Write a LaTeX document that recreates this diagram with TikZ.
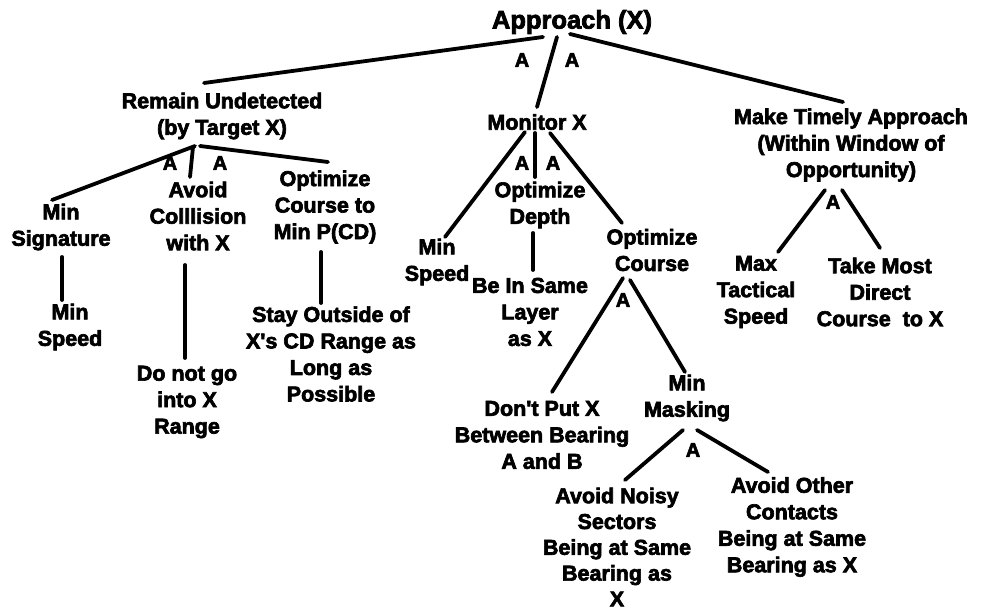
\documentclass[tikz,border=0pt]{standalone}
\usepackage{fontspec}
\newfontfamily\lblfont{Liberation Sans Bold}[FakeBold=3]
\usetikzlibrary{calc}

\tikzset{
  goal/.style={inner sep=0pt, align=center,
    font=\lblfont\fontsize{21.5}{26.5}\selectfont},
  tightgoal/.style={goal, font=\lblfont\fontsize{21.5}{25.8}\selectfont},
  topgoal/.style={goal, font=\lblfont\fontsize{25.5}{30}\selectfont},
  andmark/.style={inner sep=0pt, font=\lblfont\fontsize{20}{24}\selectfont},
  link/.style={line width=3.8pt, line cap=round}
}

\begin{document}
\begin{tikzpicture}[x=1pt, y=-1pt]
\useasboundingbox (0,0) rectangle (988,609);

% goals
\node[topgoal] (app) at (572,22) {Approach (X)};
\node[goal] (rem) at (222,116) {Remain Undetected\\(by Target X)};
\node[goal] (mon) at (537,122) {Monitor X};
\node[goal] (mta) at (851,145) {Make Timely Approach\\(Within Window of\\Opportunity)};

\node[goal] (msig) at (61,227) {Min\\Signature};
\node[goal] (acol) at (198,216) {Avoid\\Colllision\\with X};
\node[goal] (ocmin) at (325,207) {Optimize\\Course to\\Min P(CD)};
\node[goal] (ms1) at (70,327) {Min\\Speed};
\node[goal] (dng) at (187,402) {Do not go\\into X\\Range};
\node[goal] (stay) at (331,354) {Stay Outside of\\X's CD Range as\\Long as\\Possible};

\node[goal] (ms2) at (437,262) {Min\\Speed};
\node[goal] (odep) at (540,205) {Optimize\\Depth};
\node[goal] (bis) at (530,312) {Be In Same\\Layer\\as X};
\node[goal] (ocr) at (652,250) {Optimize\\Course};
\node[goal] (dpx) at (542,435) {Don't Put X\\Between Bearing\\A and B};
\node[goal] (mmask) at (687,398) {Min\\Masking};
\node[tightgoal] (ans) at (617,547) {Avoid Noisy\\Sectors\\Being at Same\\Bearing as\\X};
\node[goal] (aoc) at (792,527) {Avoid Other\\Contacts\\Being at Same\\Bearing as X};

\node[goal] (mts) at (756,292) {Max\\Tactical\\Speed};
\node[goal] (tmd) at (880,292) {Take Most\\Direct\\Course\ \ to X};

% AND markers
\node[andmark] (a1) at (522,60) {A};
\node[andmark] (a2) at (572,60) {A};
\node[andmark] (a3) at (170,163) {A};
\node[andmark] (a4) at (220,163) {A};
\node[andmark] (a5) at (522,163) {A};
\node[andmark] (a6) at (553,163) {A};
\node[andmark] (a7) at (623,300) {A};
\node[andmark] (a8) at (693,450) {A};
\node[andmark] (a9) at (833,202) {A};

% decomposition links
\draw[link] ([shift={(-29,15)}]app.center) -- ([shift={(-18,-33)}]rem.center);
\draw[link] ([shift={(-15,15)}]app.center) -- ([shift={(0,-15)}]mon.center);
\draw[link] ([shift={(-2,12)}]app.center) -- ([shift={(-8,-43)}]mta.center);

\draw[link] ([shift={(-27,30)}]rem.center) -- ([shift={(-9,-27)}]msig.center);
\draw[link] ([shift={(-29,31)}]rem.center) -- ([shift={(-8,-39)}]acol.center);
\draw[link] ([shift={(-22,30)}]rem.center) -- ([shift={(3,-45)}]ocmin.center);

\draw[link] ([shift={(1,30)}]msig.center) -- ([shift={(-8,-27)}]ms1.center);
\draw[link] ([shift={(-13,49)}]acol.center) -- ([shift={(-2,-44)}]dng.center);
\draw[link] ([shift={(-4,45)}]ocmin.center) -- ([shift={(-10,-51)}]stay.center);

\draw[link] ([shift={(-12,10)}]mon.center) -- ([shift={(8,-25)}]ms2.center);
\draw[link] ([shift={(-2,11)}]mon.center) -- ([shift={(-5,-28)}]odep.center);
\draw[link] ([shift={(13,11)}]mon.center) -- ([shift={(-30,-27)}]ocr.center);

\draw[link] ([shift={(-7,28)}]odep.center) -- ([shift={(3,-42)}]bis.center);
\draw[link] ([shift={(-29,28)}]ocr.center) -- ([shift={(10,-43)}]dpx.center);
\draw[link] ([shift={(-22,30)}]ocr.center) -- ([shift={(-2,-26)}]mmask.center);

\draw[link] ([shift={(-4,32)}]mmask.center) -- ([shift={(8,-67)}]ans.center);
\draw[link] ([shift={(10,32)}]mmask.center) -- ([shift={(-24,-55)}]aoc.center);

\draw[link] ([shift={(-26,45)}]mta.center) -- ([shift={(22,-40)}]mts.center);
\draw[link] ([shift={(-9,45)}]mta.center) -- ([shift={(0,-44)}]tmd.center);
\end{tikzpicture}
\end{document}
